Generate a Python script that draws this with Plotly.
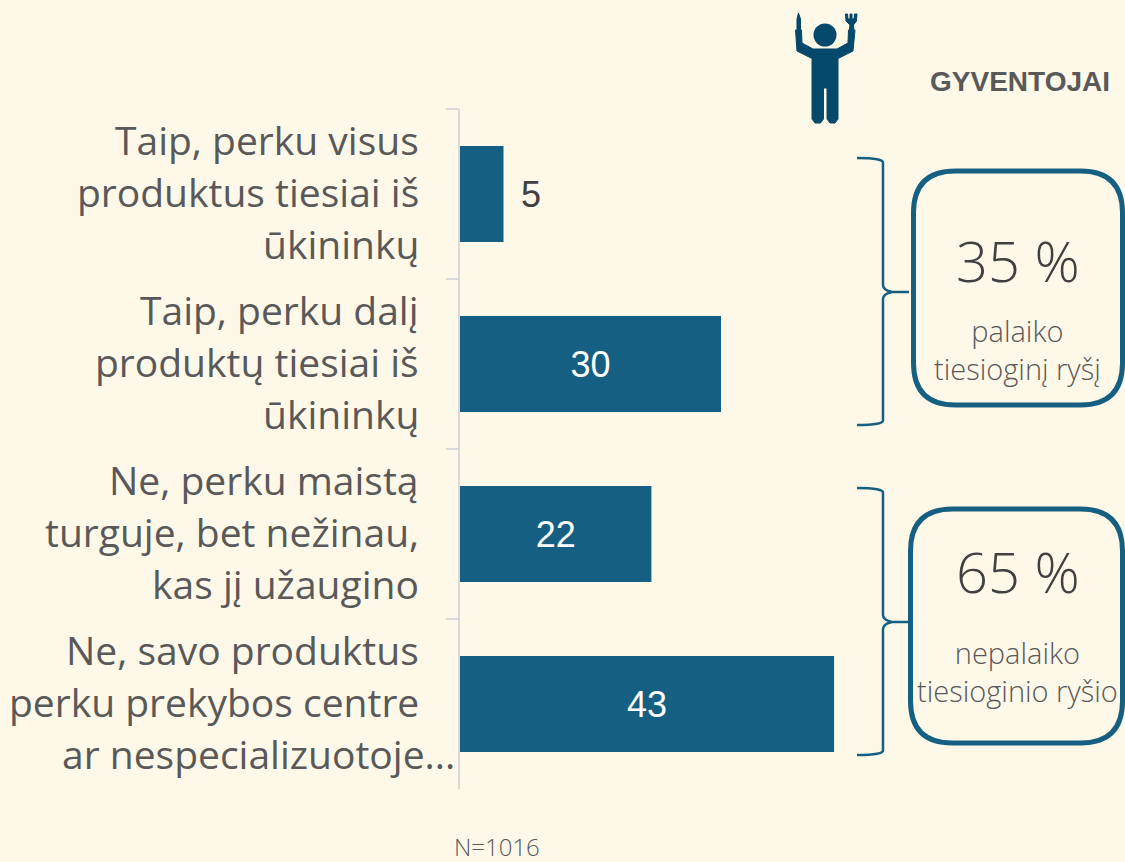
import plotly.graph_objects as go

categories = [
    "Taip, perku visus produktus tiesiai iš ūkininkų",
    "Taip, perku dalį produktų tiesiai iš ūkininkų",
    "Ne, perku maistą turguje, bet nežinau, kas jį užaugino",
    "Ne, savo produktus perku prekybos centre ar nespecializuotoje...",
]
category_lines = [
    ["Taip, perku visus", "produktus tiesiai iš", "ūkininkų"],
    ["Taip, perku dalį", "produktų tiesiai iš", "ūkininkų"],
    ["Ne, perku maistą", "turguje, bet nežinau,", "kas jį užaugino"],
    ["Ne, savo produktus", "perku prekybos centre", "ar nespecializuotoje..."],
]
values = [5, 30, 22, 43]
group_titles = ["35 %", "65 %"]
group_lines = [["palaiko", "tiesioginį ryšį"], ["nepalaiko", "tiesioginio ryšio"]]
audience = "GYVENTOJAI"
sample_note = "N=1016"

W, H = 1125, 862
L, R, T, B = 460, 230, 109, 73
BAR = "#156082"
BG = "#FEF8E8"
DARK = "#404040"
GREY = "#595959"
ICON = "#04496C"
LABEL_FONT = "Open Sans"


def px(x):
    return (x - L) / (W - L - R)


def py(y):
    return 1 - (y - T) / (H - T - B)


def pt(x, y):
    return f"{px(x):.5f},{py(y):.5f}"


def rounded(x0, y0, x1, y1, r):
    return (
        f"M{pt(x0 + r, y0)} L{pt(x1 - r, y0)} Q{pt(x1, y0)} {pt(x1, y0 + r)} "
        f"L{pt(x1, y1 - r)} Q{pt(x1, y1)} {pt(x1 - r, y1)} "
        f"L{pt(x0 + r, y1)} Q{pt(x0, y1)} {pt(x0, y1 - r)} "
        f"L{pt(x0, y0 + r)} Q{pt(x0, y0)} {pt(x0 + r, y0)} Z"
    )


def brace(x0, xv, xt, y0, ym, y1):
    return (
        f"M{pt(x0, y0)} Q{pt(xv + 1, y0)} {pt(xv, y0 + 5)} L{pt(xv, ym - 7)} "
        f"Q{pt(xv, ym - 2)} {pt(xv + 9, ym)} L{pt(xt, ym)} L{pt(xv + 9, ym)} "
        f"Q{pt(xv, ym + 2)} {pt(xv, ym + 7)} L{pt(xv, y1 - 5)} Q{pt(xv + 1, y1)} {pt(x0, y1)}"
    )


fig = go.Figure(
    go.Bar(
        x=values,
        y=categories,
        orientation="h",
        marker=dict(color=BAR, line_width=0),
        text=[("\u2009\u2009" + str(v)) if v < 10 else str(v) for v in values],
        textposition=["outside" if v < 10 else "inside" for v in values],
        insidetextanchor="middle",
        constraintext="none",
        textangle=0,
        outsidetextfont=dict(color=DARK, size=36, family="Liberation Sans"),
        insidetextfont=dict(color="white", size=36, family="Liberation Sans"),
        cliponaxis=False,
        hoverinfo="skip",
    )
)

annotations = []


def add_text(x, y, text, size, color, family=LABEL_FONT, anchor="center", weight=400):
    annotations.append(
        dict(
            xref="paper", yref="paper", x=px(x), y=py(y), text=text, showarrow=False,
            xanchor=anchor, yanchor="middle", borderpad=0, borderwidth=0,
            font=dict(size=size, color=color, family=family, weight=weight),
        )
    )


for cat, lines in zip(categories, category_lines):
    for i, line in enumerate(lines):
        annotations.append(
            dict(
                xref="paper", yref="y", x=px(456 if line.endswith("...") else 420), y=cat,
                yshift=(1 - i) * 52 + 3, text=line, showarrow=False, xanchor="right",
                yanchor="middle", borderpad=0,
                font=dict(size=39, color=GREY, family=LABEL_FONT),
            )
        )

add_text(1019.5, 82, audience, 28, GREY, "Liberation Sans", weight=700)
add_text(1018, 260, group_titles[0], 56, DARK, weight=300)
add_text(1018, 571, group_titles[1], 56, DARK, weight=300)
add_text(1017, 349, "<br>".join(group_lines[0]), 29, GREY, weight=300)
add_text(1017, 671.5, "<br>".join(group_lines[1]), 29, GREY, weight=300)
add_text(497, 846, sample_note, 24, GREY, weight=300)

line = dict(color=BAR, width=2.5)
shapes = [
    dict(type="path", xref="paper", yref="paper", path=brace(857, 883, 909, 158, 292, 425), line=line),
    dict(type="path", xref="paper", yref="paper", path=brace(857, 883, 908, 488, 622, 755), line=line),
    dict(type="path", xref="paper", yref="paper", path=rounded(913.5, 171, 1122.5, 405, 42), line=dict(color=BAR, width=5)),
    dict(type="path", xref="paper", yref="paper", path=rounded(910.5, 509, 1122.5, 743, 42), line=dict(color=BAR, width=5)),
]
body = [
    (795.5, 30), (801.5, 30), (802, 43), (813, 49), (837, 49), (848, 43), (848.5, 30), (855, 30),
    (853, 51), (838, 58.5), (838, 119), (835, 123), (830, 123), (827, 119), (827, 88), (823.5, 88),
    (823.5, 119), (820.5, 123), (815, 123), (812, 119), (812, 58.5), (797, 51),
]
icon_paths = [
    "M" + " L".join(pt(*p) for p in body) + " Z",
    "M" + " L".join(pt(*p) for p in [(797, 32), (797, 19), (798.5, 13), (800.5, 19), (800.5, 32)]) + " Z",
    "M" + " L".join(pt(*p) for p in [(849, 33), (850, 25), (846, 21), (845.5, 14), (847.5, 14), (848, 19),
                                     (850, 19), (850, 14), (852, 14), (852, 19), (854, 19), (854.5, 14),
                                     (857, 14), (856.5, 21), (853.5, 25), (854, 33)]) + " Z",
]
for p in icon_paths:
    shapes.append(dict(type="path", xref="paper", yref="paper", path=p, fillcolor=ICON,
                       line=dict(color=ICON, width=1)))
x0, x1, y0, y1 = px(813.5), px(836.5), py(23.5), py(46.5)
shapes.append(dict(type="circle", xref="paper", yref="paper", x0=x0, x1=x1, y0=y0, y1=y1, fillcolor=ICON, line_width=0))

fig.update_layout(
    width=W, height=H, autosize=False,
    margin=dict(l=L, r=R, t=T, b=B, pad=0),
    paper_bgcolor=BG, plot_bgcolor=BG,
    bargap=74 / 170,
    showlegend=False,
    annotations=annotations,
    shapes=shapes,
    xaxis=dict(range=[0, 50], visible=False, fixedrange=True),
    yaxis=dict(
        type="category", categoryorder="array", categoryarray=categories, autorange="reversed",
        showline=True, linecolor="#D9D9D9", linewidth=2, showgrid=False, zeroline=False,
        ticks="outside", ticklen=12, tickwidth=2, tickcolor="#D9D9D9", tickson="boundaries",
        showticklabels=False, fixedrange=True,
    ),
)

fig.write_html(
    "out.html",
    config={"displayModeBar": False, "responsive": False},
    post_script=f"document.body.style.margin='0';document.body.style.background='{BG}';document.body.style.overflow='hidden';",
)
